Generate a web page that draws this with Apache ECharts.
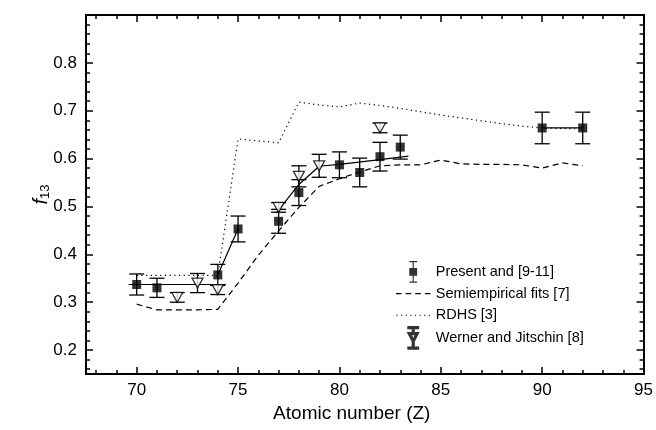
<!DOCTYPE html>
<html>
<head>
<meta charset="utf-8">
<script src="https://cdn.jsdelivr.net/npm/echarts@6/dist/echarts.min.js"></script>
<style>
  html, body { margin: 0; padding: 0; background: #fff; }
  #chart { width: 656px; height: 430px; }
</style>
</head>
<body>
<div id="chart"></div>
<script>
// present measurements (squares) with errors
const presentZ = [70, 71, 74, 75, 77, 78, 80, 81, 82, 83, 90, 92]
const presentF = [0.337, 0.330, 0.357, 0.453, 0.469, 0.529, 0.587, 0.571, 0.604, 0.624, 0.664, 0.664]
const presentErr = [0.022, 0.020, 0.022, 0.027, 0.025, 0.027, 0.027, 0.030, 0.030, 0.025, 0.033, 0.033]

// Werner and Jitschin (open triangles)
const wernerZ = [72, 73, 74, 77, 78, 79, 82]
const wernerF = [0.310, 0.340, 0.326, 0.498, 0.563, 0.585, 0.664]
const wernerErr = [0.010, 0.020, 0.010, 0.010, 0.022, 0.024, 0.010]

// solid fit through present data (null = gap)
const fitZ = [69.6, 74.4, null, 74, 75, null, 76.9, 78, 79, 80, 82, 83.4, null, 90, 92]
const fitF = [0.337, 0.337, null, 0.357, 0.453, null, 0.487, 0.546, 0.584, 0.588, 0.598, 0.605, null, 0.664, 0.664]

// semiempirical fits (dashed)
const semiZ = [70, 71, 72, 73, 74, 75, 76, 77, 78, 79, 80, 81, 82, 83, 84, 85, 86, 87, 88, 89, 90, 91, 92]
const semiF = [0.296, 0.284, 0.284, 0.284, 0.285, 0.340, 0.398, 0.449, 0.498, 0.542, 0.558, 0.572, 0.585, 0.587, 0.587, 0.597, 0.589, 0.588, 0.588, 0.587, 0.580, 0.591, 0.585]

// RDHS (dotted)
const rdhsZ = [70, 71, 72, 73, 74, 75, 76, 77, 78, 79, 80, 81, 82, 83, 84, 85, 86, 87, 88, 89, 90, 91, 92]
const rdhsF = [0.356, 0.356, 0.356, 0.356, 0.356, 0.641, 0.637, 0.633, 0.718, 0.712, 0.708, 0.716, 0.711, 0.705, 0.698, 0.691, 0.685, 0.679, 0.673, 0.668, 0.664, 0.663, 0.662]

const xLabels = [70, 75, 80, 85, 90, 95]
const yLabels = [0.2, 0.3, 0.4, 0.5, 0.6, 0.7, 0.8]

const font = 'Liberation Sans, Arial, Helvetica, sans-serif'

var xMinor = []
for (let z = 68; z < 95; z++) {
  if (z % 5 !== 0) xMinor.push(z)
}
var yMinor = []
for (let k = 16; k < 90; k += 2) {
  if (k % 10 !== 0) yMinor.push(k / 100)
}

function pairs(xs, ys) {
  return xs.map((x, i) => (x === null ? ['-', '-'] : [x, ys[i]]))
}
function bars(xs, ys, es) {
  return xs.map((x, i) => [x, ys[i] - es[i], ys[i] + es[i]])
}

// legend icons, all 22 units tall so the rows keep the same height
const squareIcon = 'path://M1,0H9V1.2H1Z M4.4,0H5.6V22H4.4Z M1,7H9V15H1Z M1,20.8H9V22H1Z'
const triIcon = 'path://M0,0H10V1.2H0Z M4.4,0H5.6V6H4.4Z M0,6H10L5,15.5Z M2,7.2L5,13L8,7.2Z M4.4,15H5.6V22H4.4Z M0,20.8H10V22H0Z'
const pad = ' M17,0H17.01V0.01H17Z M17,21.99H17.01V22H17Z'
const dashIcon = 'path://M0,10.35H5.5V11.65H0Z M9.8,10.35H15.3V11.65H9.8Z M19.6,10.35H25.1V11.65H19.6Z M29.4,10.35H34.9V11.65H29.4Z' + pad
const dotIcon = 'path://M0,10.4H1.2V11.6H0Z M4.7,10.4H5.9V11.6H4.7Z M9.4,10.4H10.6V11.6H9.4Z M14.1,10.4H15.3V11.6H14.1Z M18.8,10.4H20V11.6H18.8Z M23.5,10.4H24.7V11.6H23.5Z M28.2,10.4H29.4V11.6H28.2Z M32.9,10.4H34.1V11.6H32.9Z' + pad

function errorBar(params, api) {
  const top = api.coord([api.value(0), api.value(2)])
  const bot = api.coord([api.value(0), api.value(1)])
  const hw = 7.5
  const st = { stroke: '#000', lineWidth: 1.3 }
  return {
    type: 'group',
    children: [
      { type: 'line', shape: { x1: top[0], y1: top[1], x2: bot[0], y2: bot[1] }, style: st },
      { type: 'line', shape: { x1: top[0] - hw, y1: top[1], x2: top[0] + hw, y2: top[1] }, style: st },
      { type: 'line', shape: { x1: bot[0] - hw, y1: bot[1], x2: bot[0] + hw, y2: bot[1] }, style: st }
    ]
  }
}

function xAxisOf(pos, values, len, withLabels) {
  return {
    type: 'value',
    position: pos,
    min: 67.5,
    max: 95,
    name: withLabels ? 'Atomic number (Z)' : '',
    nameLocation: 'middle',
    nameGap: 30,
    nameMoveOverlap: false,
    nameTextStyle: { fontFamily: font, fontSize: 19, color: '#000', padding: [0, 26, 0, 0] },
    axisLine: { show: true, onZero: false, lineStyle: { color: '#000', width: 2 } },
    axisTick: { show: true, inside: true, length: len, customValues: values, lineStyle: { color: '#000', width: 1.5 } },
    axisLabel: { show: withLabels, customValues: xLabels, margin: 8, fontFamily: font, fontSize: 17, color: '#000' },
    splitLine: { show: false }
  }
}

function yAxisOf(pos, values, len, withLabels) {
  return {
    type: 'value',
    position: pos,
    min: 0.15,
    max: 0.9,
    name: withLabels ? '{i|f}{s|13}' : '',
    nameLocation: 'middle',
    nameRotate: 90,
    nameGap: 34,
    nameMoveOverlap: false,
    nameTextStyle: {
      color: '#000',
      rich: {
        i: { fontFamily: font, fontStyle: 'italic', fontSize: 20, color: '#000' },
        s: { fontFamily: font, fontSize: 13, color: '#000', padding: [9, 0, 0, 0] }
      }
    },
    axisLine: { show: true, onZero: false, lineStyle: { color: '#000', width: 2 } },
    axisTick: { show: true, inside: true, length: len, customValues: values, lineStyle: { color: '#000', width: 1.5 } },
    axisLabel: {
      show: withLabels,
      customValues: yLabels,
      margin: 9,
      fontFamily: font,
      fontSize: 17,
      color: '#000',
      formatter: v => v.toFixed(1)
    },
    splitLine: { show: false }
  }
}

var myChart = echarts.init(document.getElementById('chart'), null, { renderer: 'canvas' })
const option = {
  backgroundColor: '#fff',
  animation: false,
  grid: { left: 86, right: 12, top: 15, bottom: 56 },
  xAxis: [
    xAxisOf('bottom', xLabels, 7, true),
    xAxisOf('bottom', xMinor, 4, false),
    xAxisOf('top', xLabels, 7, false),
    xAxisOf('top', xMinor, 4, false)
  ],
  yAxis: [
    yAxisOf('left', yLabels, 7, true),
    yAxisOf('left', yMinor, 4, false),
    yAxisOf('right', yLabels, 7, false),
    yAxisOf('right', yMinor, 4, false)
  ],
  legend: {
    orient: 'vertical',
    left: 396,
    top: 261,
    padding: 0,
    itemWidth: 35,
    itemHeight: 21.7,
    itemGap: 0,
    textStyle: { fontFamily: font, fontSize: 14.5, color: '#000' },
    data: [
      { name: 'Present and [9-11]', icon: squareIcon },
      { name: 'Semiempirical fits [7]', icon: dashIcon },
      { name: 'RDHS [3]', icon: dotIcon },
      { name: 'Werner and Jitschin [8]', icon: triIcon }
    ]
  },
  series: [
    {
      name: 'Semiempirical fits [7]',
      type: 'line',
      data: pairs(semiZ, semiF),
      symbol: 'none',
      lineStyle: { color: '#000', width: 1.2, type: [6, 4] },
      itemStyle: { color: '#000' },
      z: 2
    },
    {
      name: 'RDHS [3]',
      type: 'line',
      data: pairs(rdhsZ, rdhsF),
      symbol: 'none',
      lineStyle: { color: '#000', width: 1.2, type: [1.2, 3.5] },
      itemStyle: { color: '#000' },
      z: 2
    },
    {
      name: 'fit',
      type: 'line',
      data: pairs(fitZ, fitF),
      symbol: 'none',
      connectNulls: false,
      lineStyle: { color: '#000', width: 1.2 },
      z: 3
    },
    {
      name: 'presentErr',
      type: 'custom',
      renderItem: errorBar,
      data: bars(presentZ, presentF, presentErr),
      encode: { x: 0, y: [1, 2] },
      z: 4
    },
    {
      name: 'wernerErr',
      type: 'custom',
      renderItem: errorBar,
      data: bars(wernerZ, wernerF, wernerErr),
      encode: { x: 0, y: [1, 2] },
      z: 4
    },
    {
      name: 'Present and [9-11]',
      type: 'scatter',
      data: pairs(presentZ, presentF),
      symbol: 'rect',
      symbolSize: 9,
      itemStyle: { color: '#000' },
      z: 6
    },
    {
      name: 'Werner and Jitschin [8]',
      type: 'scatter',
      data: pairs(wernerZ, wernerF),
      symbol: 'triangle',
      symbolRotate: 180,
      symbolSize: [11, 10],
      itemStyle: { color: '#fff', borderColor: '#000', borderWidth: 1.3 },
      z: 5
    }
  ]
}
myChart.setOption(option)
</script>
</body>
</html>
